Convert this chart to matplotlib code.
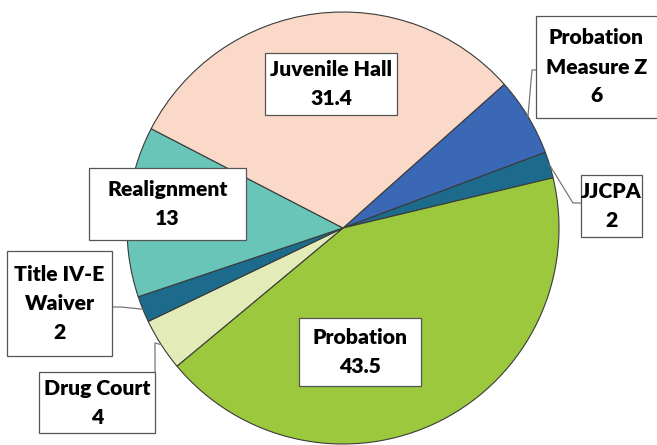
import matplotlib.pyplot as plt
from matplotlib.patches import Rectangle
import numpy as np

# data, in clockwise order starting from the Juvenile Hall / Measure Z boundary
labels = ['Probation\nMeasure Z', 'JJCPA', 'Probation', 'Drug Court',
          'Title IV-E\nWaiver', 'Realignment', 'Juvenile Hall']
values = [6, 2, 43.5, 4, 2, 13, 31.4]
value_text = ['6', '2', '43.5', '4', '2', '13', '31.4']
colors = ['#3B68B5', '#1C6A8C', '#9BC83C', '#E3EBB8',
          '#1C6A8C', '#68C5B8', '#FAD9C8']

W, H = 657, 445

def px(x, y):
    # image pixel coords -> axes coords (y up)
    return x, H - y

# label boxes: (left, top, right, bottom) in image pixels
boxes = [(536, 16, 660, 118), (581, 175, 642, 237), (299, 318, 421, 386),
         (39, 372, 155, 433), (7, 251, 112, 356), (89, 168, 246, 240),
         (265, 53, 397, 115)]
# leader lines: elbow point(s) then box attach point, None = label inside slice
leaders = [[(532, 70), (536, 70)], [(573, 203), (581, 203)], None,
           [(155, 343), (155, 372)], [(121, 307), (112, 307)], None, None]

fig = plt.figure(figsize=(W / 100, H / 100), dpi=100)
ax = fig.add_axes([0, 0, 1, 1])

cx, cy = px(343, 228)
R = 216
wedges, _ = ax.pie(values, colors=colors, startangle=41.7, counterclock=False,
                   center=(cx, cy), radius=R, frame=True,
                   wedgeprops=dict(edgecolor='#3a3a3a', linewidth=0.8))
ax.set_xlim(0, W)
ax.set_ylim(0, H)
ax.set_aspect('equal')
ax.axis('off')

for w, lab, vt, box, lead in zip(wedges, labels, value_text, boxes, leaders):
    l, t, r, b = box
    x0, y0 = px(l, b)
    ax.add_patch(Rectangle((x0, y0), r - l, b - t, facecolor='white',
                           edgecolor='#555555', linewidth=0.9, zorder=4))
    lines = lab.split('\n') + [vt]
    n = len(lines)
    mid = (t + b) / 2
    step = 29
    xc = (l + min(r, W)) / 2
    for i, s in enumerate(lines):
        yy = mid + (i - (n - 1) / 2) * step
        ax.text(xc, H - yy, s, ha='center', va='center', fontsize=15.2,
                fontweight='heavy', family='Lato', color='#000000', zorder=5)
    if lead is not None:
        ang = np.deg2rad((w.theta1 + w.theta2) / 2)
        ex, ey = cx + R * np.cos(ang), cy + R * np.sin(ang)
        xs = [ex] + [p[0] for p in lead]
        ys = [ey] + [H - p[1] for p in lead]
        ax.plot(xs, ys, color='#777777', linewidth=0.9, zorder=3)

fig.savefig('out.png', dpi=100)
